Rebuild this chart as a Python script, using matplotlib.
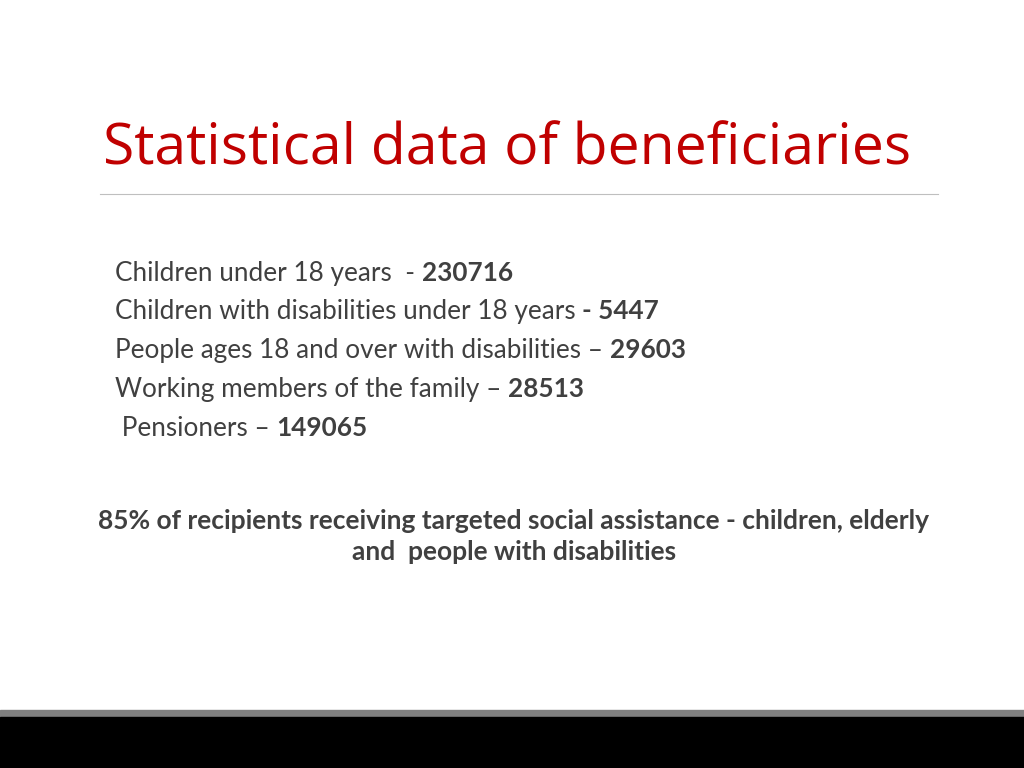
import matplotlib
matplotlib.use("Agg")
import matplotlib.pyplot as plt
from matplotlib.patches import Rectangle
from matplotlib.lines import Line2D

title = "Statistical data of beneficiaries"
labels = ["Children under 18 years  - ", "Children with disabilities under 18 years ",
          "People ages 18 and over with disabilities \u2013 ", "Working members of the family \u2013 ",
          " Pensioners \u2013 "]
bold_prefix = ["", "- ", "", "", ""]
values = ["230716", "5447", "29603", "28513", "149065"]
summary = ["85% of recipients receiving targeted social assistance - children, elderly",
           "and  people with disabilities"]

W, H = 1024, 768
fig = plt.figure(figsize=(W/100, H/100), dpi=100)
fig.patch.set_facecolor("white")
font = "Lato"
def fx(x): return x / W
def fy(y): return 1 - y / H

fig.text(fx(103), fy(150), title, fontsize=41, color="#C00000", family="Open Sans",
         va="center", ha="left")
fig.add_artist(Line2D([fx(100), fx(938)], [fy(194), fy(194)], color="#BFBFBF", lw=0.8))

fig.canvas.draw()
r = fig.canvas.get_renderer()
ys = [273, 311, 350, 389, 428]
for lab, bp, val, y in zip(labels, bold_prefix, values, ys):
    t = fig.text(fx(115), fy(y), lab, fontsize=18.8, color="#404040", family=font, va="center")
    bb = t.get_window_extent(r)
    fig.text(bb.x1 / W, fy(y), bp + val, fontsize=18.8, color="#404040", family=font,
             weight="bold", va="center")

for i, s in enumerate(summary):
    fig.text(fx(514), fy(521 + 31 * i), s, fontsize=19, color="#404040", family=font,
             weight="bold", va="center", ha="center")

fig.add_artist(Rectangle((0, 0), 1, fy(710), transform=fig.transFigure, color="#808080"))
fig.add_artist(Rectangle((0, 0), 1, fy(717), transform=fig.transFigure, color="black"))
fig.savefig("out.png", dpi=100)
